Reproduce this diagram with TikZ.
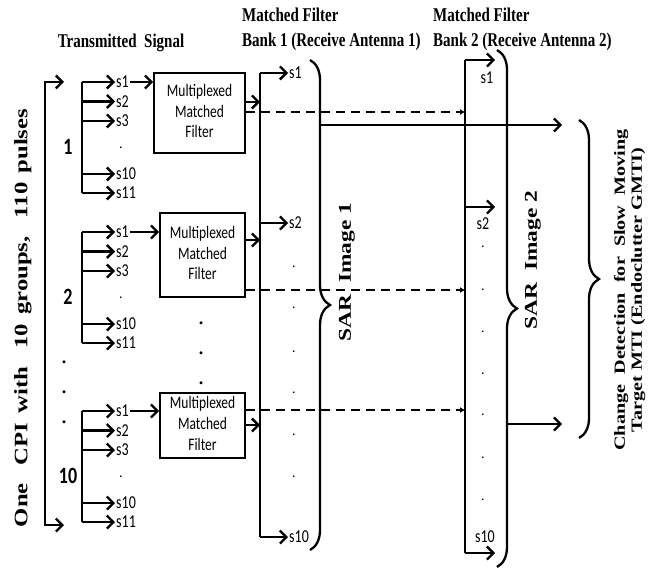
\documentclass[tikz,border=0pt]{standalone}
\usepackage{fontspec}
\setmainfont{Liberation Serif}
\newfontfamily\calib{Carlito}
\usetikzlibrary{arrows.meta,decorations.pathreplacing,calc}
% the source picture is stretched in height
\newcommand{\tallt}[1]{\scalebox{1}[1.3]{#1}}
\newcommand{\longt}[1]{\scalebox{1.3}[1]{#1}}
\newcommand{\mmflabel}{\tallt{\begin{tabular}{@{}c@{}}Multiplexed\\Matched\\Filter\end{tabular}}}

\begin{document}
\begin{tikzpicture}[
  x=1pt, y=-1pt,
  wire/.style={line width=2.3pt, black},
  arr/.style={wire, -{Straight Barb[length=6.5pt,width=13pt]}},
  dasharr/.style={line width=2.3pt, dash pattern=on 9pt off 6pt, -{Latex[length=5pt,width=6pt]}},
  brk/.style={wire, decorate, decoration={brace, amplitude=20pt}},
  mmf/.style={draw, line width=1.9pt, minimum width=85pt, inner sep=0pt, font=\calib\fontsize{13.5}{16}\selectfont},
  sig/.style={font=\calib\fontsize{14}{16}\selectfont, inner sep=1pt},
  num/.style={font=\calib\bfseries\fontsize{18}{20}\selectfont, inner sep=0pt},
  hdr/.style={font=\bfseries\fontsize{15}{18}\selectfont, inner sep=0pt},
  side/.style={font=\bfseries\fontsize{18}{20}\selectfont, rotate=90, inner sep=0pt},
  bigdot/.style={font=\bfseries\fontsize{18}{20}\selectfont, inner sep=0pt}
]
\useasboundingbox (0,0) rectangle (658,572);

% headers
\node[hdr] (tx) at (121,43) {\tallt{Transmitted\ \ Signal}};
\node[hdr, anchor=west] (mf1) at (242,15) {\tallt{Matched Filter}};
\node[hdr, anchor=west] (bk1) at (242,42) {\tallt{Bank 1 (Receive Antenna 1)}};
\node[hdr, anchor=west] (mf2) at (433,15) {\tallt{Matched Filter}};
\node[hdr, anchor=west] (bk2) at (433,42) {\tallt{Bank 2 (Receive Antenna 2)}};

% one CPI
\node[side, font=\bfseries\fontsize{19}{21}\selectfont] (cpi) at (23,318) {\longt{One\hspace{14pt}CPI\hspace{7pt}with\hspace{14pt}10\hspace{7pt}groups,\hspace{14pt}110\hspace{7pt}pulses}};
\coordinate (ct) at (45,82);
\coordinate (cb) at (45,525);
\coordinate (c1) at (64,82);
\coordinate (c2) at (64,525);
\draw[wire, {Straight Barb[length=6.5pt,width=13pt]}-{Straight Barb[length=6.5pt,width=13pt]}] (c1) -- (ct) -- (cb) -- (c2);
\foreach \y in {362,392,422} \node[bigdot] at (64,\y) {.};

% filters
\node[mmf, minimum width=91pt, minimum height=80pt] (f1) at (199.5,113) {\mmflabel};
\node[mmf, minimum height=84pt] (f2) at (202.5,255) {\mmflabel};
\node[mmf, minimum height=65pt] (f3) at (202.5,425.5) {\mmflabel};
\foreach \y in {323,353,383} \node[bigdot] at (201,\y) {.};

% pulse groups
\foreach \g/\y/\n in {1/82/1, 2/232/2, 3/411/10} {
  \coordinate (t\g) at (82,\y);
  \coordinate (b\g) at (82,\y+111);
  \draw[wire] (t\g) -- (b\g);
  \foreach \k/\dy/\s in {a/0/s1, b/19.5/s2, c/39/s3, d/92/s10, e/111/s11} {
    \node[sig, anchor=west] (s\g\k) at (115,\y+\dy) {\tallt{\s}};
    \draw[arr] (t\g |- s\g\k) -- (s\g\k.west);
  }
  \node[sig] at (121,\y+66) {.};
  \node[num] (n\g) at (68,\y+65) {\tallt{\n}};
  \draw[arr] (s\g a.east) -- (f\g.west |- s\g a);
}

% bank 1
\coordinate (k1t) at (260,73);
\coordinate (k1b) at (260,537);
\draw[wire] (k1t) -- (k1b);
\node[sig, anchor=west] (k1s1) at (288,73) {\tallt{s1}};
\node[sig, anchor=west] (k1s2) at (288,223) {\tallt{s2}};
\node[sig, anchor=west] (k1s10) at (288,537) {\tallt{s10}};
\foreach \n in {k1s1,k1s2,k1s10} \draw[arr] (k1t |- \n) -- (\n.west);
\foreach \y in {267,308,352,393,435,477} \node[sig] at (294,\y) {.};

% bank 2
\coordinate (k2t) at (465,60);
\coordinate (k2b) at (465,553);
\draw[wire] (k2t) -- (k2b);
\foreach \y/\n in {60/a, 207/b, 553/c} {
  \coordinate (k2\n) at (495,\y);
  \draw[arr] (k2t |- k2\n) -- (k2\n);
}
\node[sig] (k2s1) at (487,78) {\tallt{s1}};
\node[sig] (k2s2) at (483,224) {\tallt{s2}};
\node[sig] (k2s10) at (485,537) {\tallt{s10}};
\foreach \y in {247,290,332,374,415,458,500} \node[sig] at (483,\y) {.};

% filter outputs
\draw[arr] (f1.east |- 0,102) -- (k1t |- 0,102);
\draw[arr] (f2.east |- 0,240) -- (k1t |- 0,240);
\draw[arr] (f3.east |- 0,425) -- (k1t |- 0,425);
\draw[dasharr] (f1.east |- 0,112) -- (k2t |- 0,112);
\draw[dasharr] (f2.east |- 0,290) -- (k2t |- 0,290);
\draw[dasharr] (f3.east |- 0,410) -- (k2t |- 0,410);

% SAR images
\draw[brk] (310,60) -- (310,550);
\draw[brk] (497,50) -- (497,567);
\draw[brk] (579,120) -- (579,438);
\node[side] (sar1) at (347,272) {\longt{SAR\ \ Image 1}};
\node[side] (sar2) at (533,260) {\longt{SAR\ \ Image 2}};
\coordinate (i1) at (320,125);
\coordinate (i2) at (507,424);
\coordinate (d1) at (562,125);
\coordinate (d2) at (562,424);
\draw[arr] (i1) -- (d1);
\draw[arr] (i2) -- (d2);

% change detection
\node[side, font=\bfseries\fontsize{15.5}{17}\selectfont] (cd) at (630,290) {\longt{\begin{tabular}{@{}c@{}}Change\ \ Detection\ \ for\ \ Slow\ \ Moving\\Target MTI (Endoclutter GMTI)\end{tabular}}};
\end{tikzpicture}
\end{document}
